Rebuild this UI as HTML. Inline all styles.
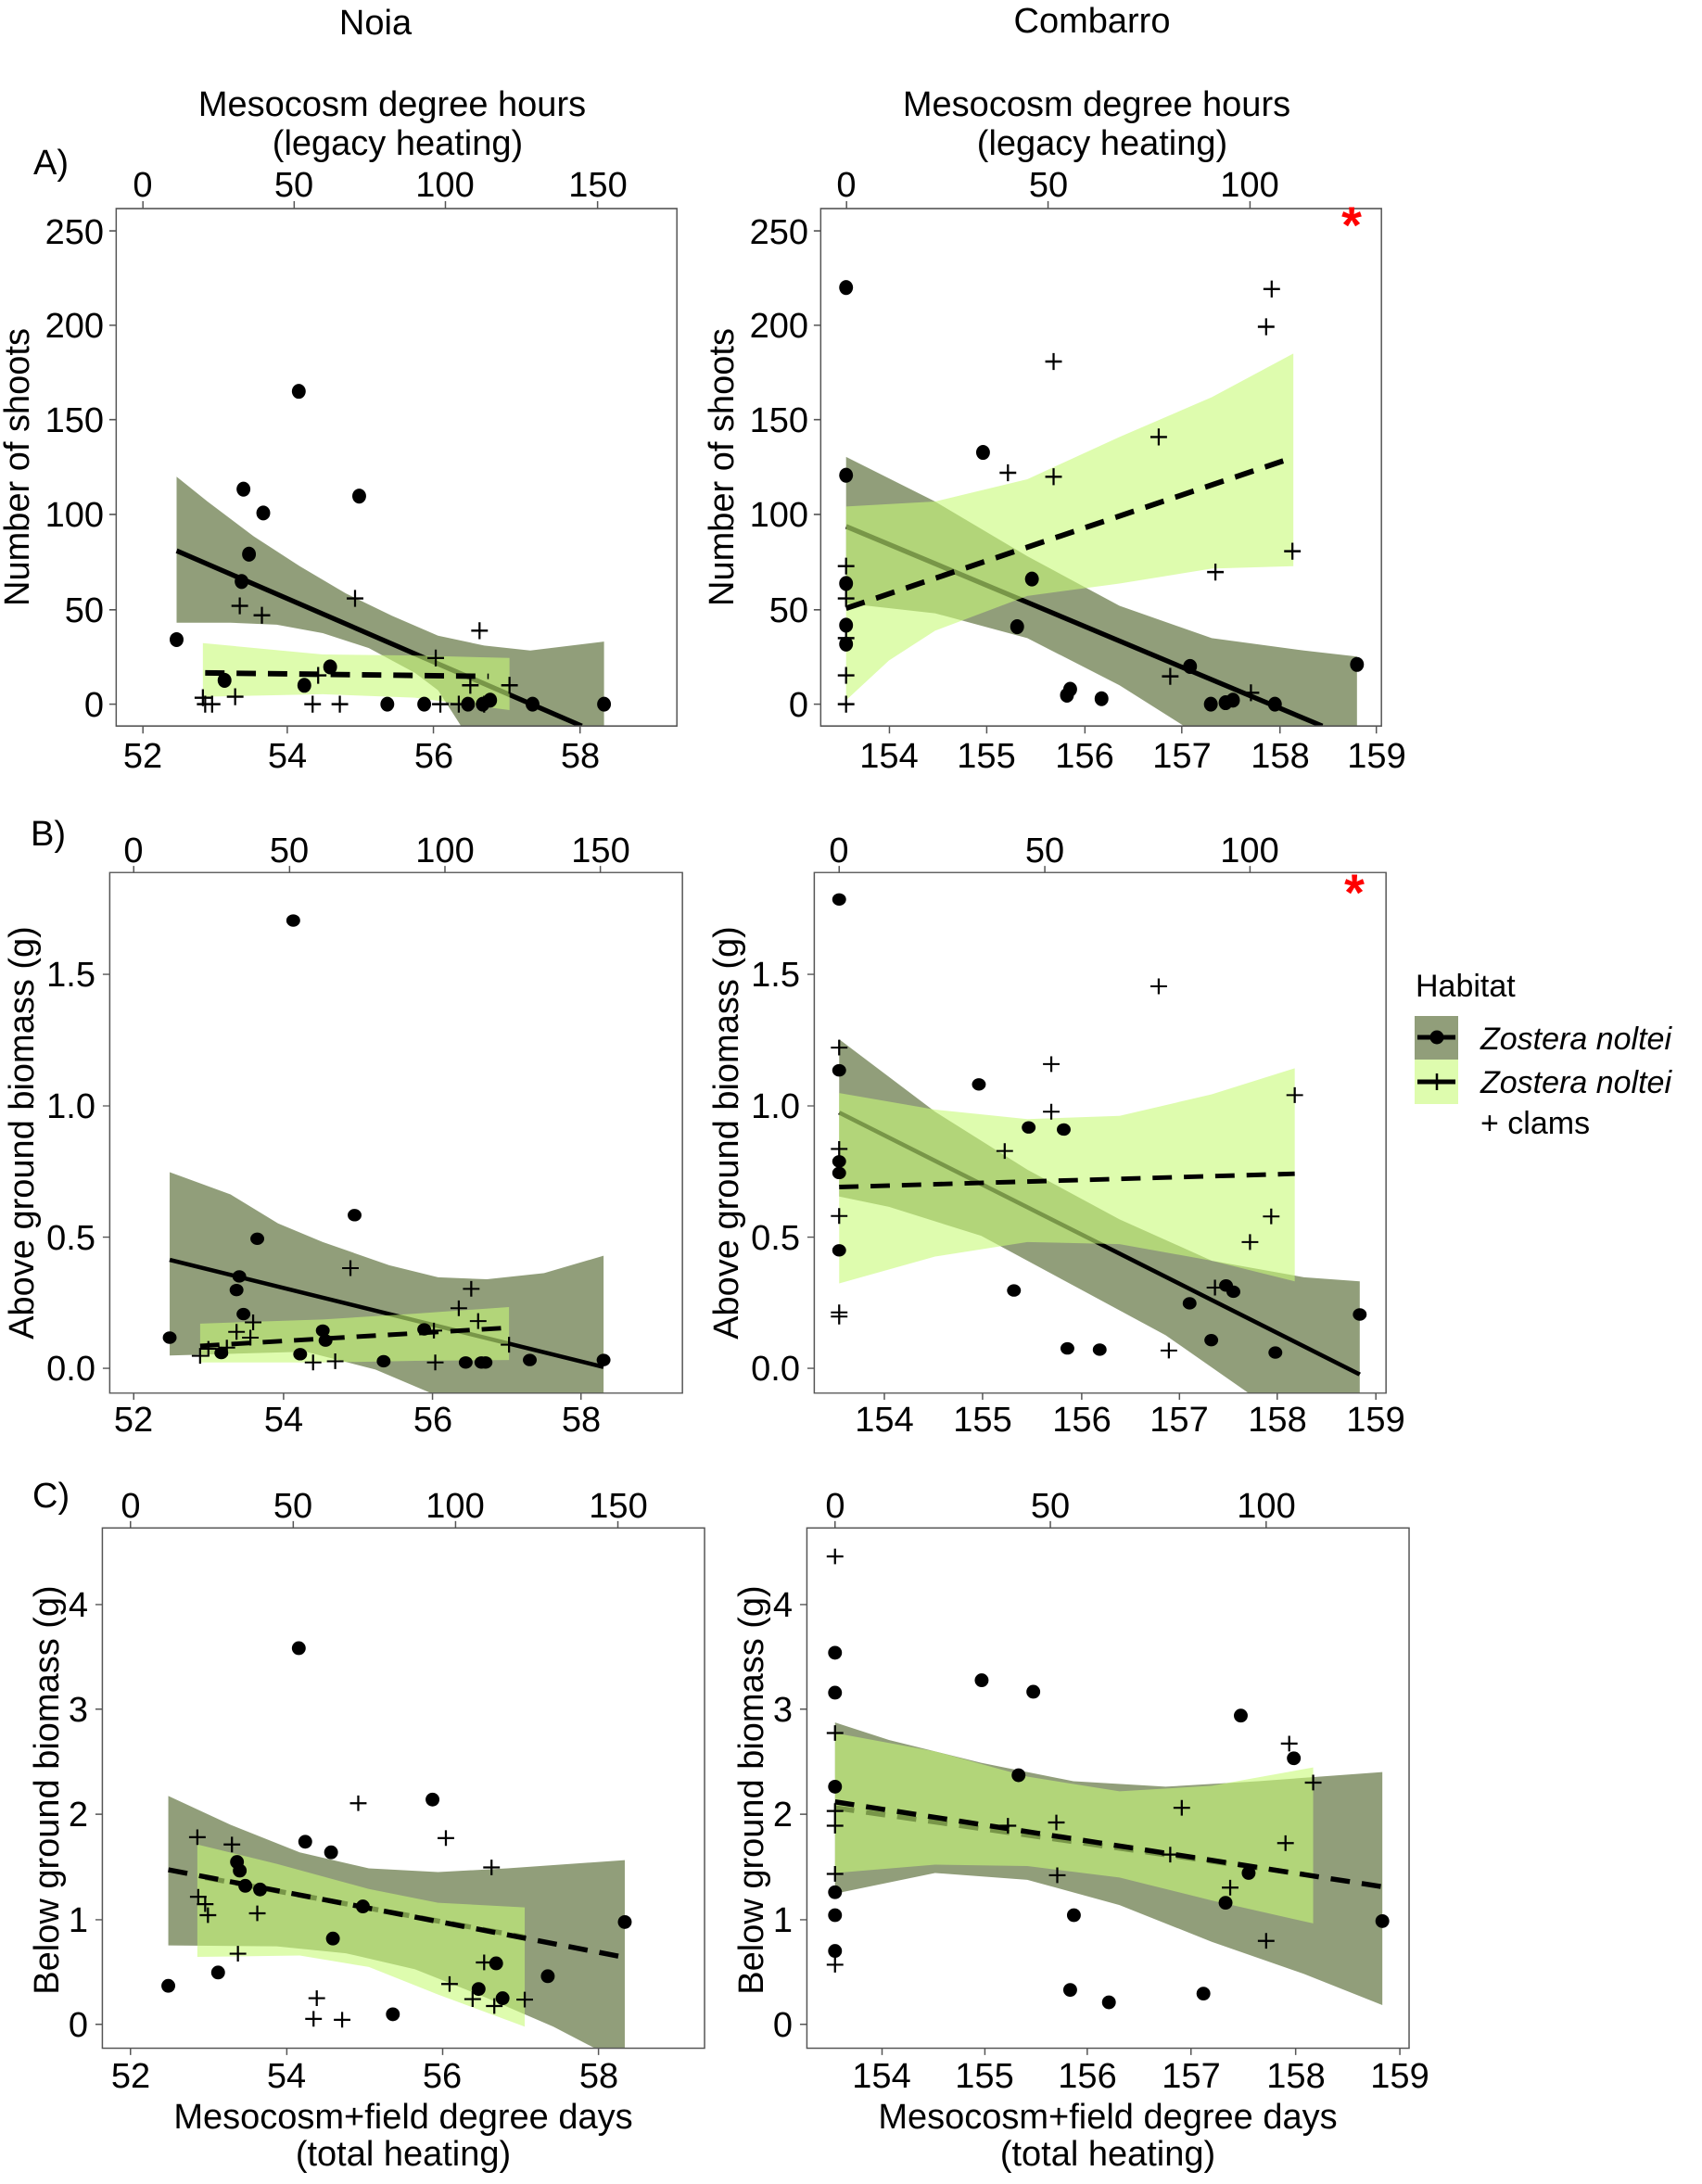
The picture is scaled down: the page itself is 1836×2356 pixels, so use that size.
<!DOCTYPE html>
<html><head><meta charset="utf-8"><style>
html,body{margin:0;padding:0;background:#fff;}
svg{display:block;}
text{font-family:"Liberation Sans",Arial,sans-serif;fill:#000;}
</style></head><body>
<svg width="1836" height="2356" viewBox="0 0 1836 2356" xmlns="http://www.w3.org/2000/svg">
<defs>
<clipPath id="cA"><rect x="252" y="420" width="1216" height="1042"/></clipPath>
<clipPath id="cB"><rect x="238" y="182" width="1242" height="1258"/></clipPath>
<clipPath id="cC"><rect x="222" y="138" width="1306" height="1134"/></clipPath>
</defs>
<style>
.dk{fill:rgb(145,158,122);}
.lt{fill:rgb(200,250,120);fill-opacity:0.6;}
.ln{stroke:#000;stroke-width:10;fill:none;}
.ds{stroke:#000;stroke-width:11;fill:none;stroke-dasharray:42 26;}
.bx{fill:none;stroke:#555;stroke-width:3;}
.tk{stroke:#555;stroke-width:3;}
.pl{stroke:#000;stroke-width:4.5;fill:none;}
</style>

<!-- ============ PANEL A LEFT ============ -->
<g transform="translate(0,0) scale(0.4974,0.5357)">
<g clip-path="url(#cA)">
<polygon class="dk" points="383,960 450,1010 550,1080 650,1140 750,1195 850,1240 950,1280 1050,1300 1150,1310 1310,1292 1310,1462 1000,1462 950,1390 900,1355 800,1305 700,1275 600,1258 500,1254 383,1254"/>
<line class="ln" x1="383" y1="1109" x2="1262" y2="1462"/>
<polygon class="lt" points="440,1295 700,1318 900,1320 1105,1325 1105,1430 900,1405 700,1398 440,1403"/>
<line class="ds" x1="445" y1="1355" x2="1060" y2="1362"/>
<g fill="#000">
<circle cx="383" cy="1288" r="15"/><circle cx="487" cy="1370" r="15"/><circle cx="648" cy="788" r="15"/><circle cx="528" cy="985" r="15"/><circle cx="540" cy="1116" r="15"/><circle cx="571" cy="1033" r="15"/><circle cx="779" cy="999" r="15"/><circle cx="524" cy="1171" r="15"/><circle cx="660" cy="1380" r="15"/><circle cx="716" cy="1343" r="15"/><circle cx="840" cy="1418" r="15"/><circle cx="920" cy="1418" r="15"/><circle cx="1015" cy="1418" r="15"/><circle cx="1047" cy="1418" r="15"/><circle cx="1063" cy="1410" r="15"/><circle cx="1155" cy="1418" r="15"/><circle cx="1310" cy="1418" r="15"/>
</g>
<path class="pl" d="M422,1405h36M440,1388v34 M427,1418h36M445,1401v34 M442,1418h36M460,1401v34 M492,1403h36M510,1386v34 M502,1220h36M520,1203v34 M550,1239h36M568,1222v34 M660,1418h36M678,1401v34 M672,1360h36M690,1343v34 M719,1418h36M737,1401v34 M752,1205h36M770,1188v34 M927,1325h36M945,1308v34 M937,1418h36M955,1401v34 M977,1418h36M995,1401v34 M1002,1380h36M1020,1363v34 M1022,1270h36M1040,1253v34 M1032,1418h36M1050,1401v34 M1087,1380h36M1105,1363v34"/>
</g>
<rect class="bx" x="252" y="420" width="1216" height="1042"/>
<path class="tk" d="M310,420v-15M638,420v-15M966,420v-15M1296,420v-15 M310,1462v15M623,1462v15M940,1462v15M1258,1462v15 M252,465h-15M252,655h-15M252,845h-15M252,1036h-15M252,1228h-15M252,1418h-15"/>
</g>

<!-- ============ PANEL A RIGHT ============ -->
<g transform="translate(760,0) scale(0.4974,0.5357)">
<g clip-path="url(#cA)">
<polygon class="dk" points="307,920 500,1010 700,1120 900,1220 1100,1285 1300,1310 1415,1322 1415,1462 1040,1462 900,1380 700,1285 500,1235 307,1215"/>
<line class="ln" x1="307" y1="1060" x2="1340" y2="1462"/>
<polygon class="lt" points="307,1020 500,1010 700,965 900,880 1100,800 1277,712 1277,1140 1100,1145 900,1175 700,1200 500,1270 400,1330 307,1410"/>
<line class="ds" x1="307" y1="1225" x2="1255" y2="928"/>
<g fill="#000">
<circle cx="307" cy="579" r="15"/><circle cx="307" cy="957" r="15"/><circle cx="307" cy="1175" r="15"/><circle cx="307" cy="1259" r="15"/><circle cx="307" cy="1297" r="15"/><circle cx="604" cy="911" r="15"/><circle cx="710" cy="1166" r="15"/><circle cx="678" cy="1262" r="15"/><circle cx="786" cy="1400" r="15"/><circle cx="793" cy="1388" r="15"/><circle cx="861" cy="1407" r="15"/><circle cx="1053" cy="1342" r="15"/><circle cx="1098" cy="1418" r="15"/><circle cx="1130" cy="1415" r="15"/><circle cx="1146" cy="1410" r="15"/><circle cx="1237" cy="1418" r="15"/><circle cx="1415" cy="1338" r="15"/>
</g>
<path class="pl" d="M289,1418h36M307,1401v34 M289,1360h36M307,1343v34 M289,1285h36M307,1268v34 M289,1205h36M307,1188v34 M289,1140h36M307,1123v34 M739,728h36M757,711v34 M640,952h36M658,935v34 M739,960h36M757,943v34 M967,880h36M985,863v34 M992,1362h36M1010,1345v34 M1090,1152h36M1108,1135v34 M1167,1395h36M1185,1378v34 M1200,658h36M1218,641v34 M1212,582h36M1230,565v34 M1257,1110h36M1275,1093v34"/>
</g>
<rect class="bx" x="252" y="420" width="1216" height="1042"/>
<path class="tk" d="M308,420v-15M745,420v-15M1183,420v-15 M401,1462v15M612,1462v15M825,1462v15M1035,1462v15M1248,1462v15M1457,1462v15 M252,465h-15M252,655h-15M252,845h-15M252,1036h-15M252,1228h-15M252,1418h-15"/>
</g>

<!-- ============ PANEL B LEFT ============ -->
<g transform="translate(0,860) scale(0.4974,0.4464)">
<g clip-path="url(#cB)">
<polygon class="dk" points="368,906 500,960 603,1030 700,1075 844,1131 950,1160 1056,1165 1180,1150 1309,1108 1309,1440 935,1440 814,1383 663,1340 368,1349"/>
<line class="ln" x1="368" y1="1118" x2="1309" y2="1377"/>
<polygon class="lt" points="434,1272 700,1262 900,1248 1104,1232 1104,1360 900,1362 700,1366 434,1366"/>
<line class="ds" x1="434" y1="1326" x2="1104" y2="1282"/>
<g fill="#000">
<circle cx="368" cy="1306" r="15"/><circle cx="636" cy="298" r="15"/><circle cx="769" cy="1010" r="15"/><circle cx="558" cy="1067" r="15"/><circle cx="513" cy="1191" r="15"/><circle cx="519" cy="1158" r="15"/><circle cx="528" cy="1249" r="15"/><circle cx="480" cy="1343" r="15"/><circle cx="651" cy="1346" r="15"/><circle cx="700" cy="1289" r="15"/><circle cx="706" cy="1313" r="15"/><circle cx="832" cy="1363" r="15"/><circle cx="920" cy="1286" r="15"/><circle cx="1010" cy="1366" r="15"/><circle cx="1044" cy="1366" r="15"/><circle cx="1053" cy="1366" r="15"/><circle cx="1309" cy="1360" r="15"/><circle cx="1149" cy="1360" r="15"/>
</g>
<path class="pl" d="M416,1350h36M434,1331v38 M434,1333h36M452,1314v38 M474,1330h36M492,1311v38 M495,1292h36M513,1273v38 M531,1269h36M549,1250v38 M525,1306h36M543,1287v38 M661,1366h36M679,1347v38 M709,1363h36M727,1344v38 M742,1138h36M760,1119v38 M923,1289h36M941,1270v38 M977,1235h36M995,1216v38 M1004,1188h36M1022,1169v38 M1019,1266h36M1037,1247v38 M926,1366h36M944,1347v38 M1086,1323h36M1104,1304v38"/>
</g>
<rect class="bx" x="238" y="182" width="1242" height="1258"/>
<path class="tk" d="M290,182v-16M628,182v-16M965,182v-16M1302,182v-16 M290,1440v16M615,1440v16M938,1440v16M1260,1440v16 M238,428h-15M238,746h-15M238,1063h-15M238,1380h-15"/>
</g>

<!-- ============ PANEL B RIGHT ============ -->
<g transform="translate(760,860) scale(0.4974,0.4464)">
<g clip-path="url(#cB)">
<polygon class="dk" points="292,585 500,760 700,900 900,1020 1100,1120 1300,1160 1421,1170 1421,1440 1180,1440 1000,1300 800,1180 600,1060 400,990 292,965"/>
<line class="ln" x1="292" y1="762" x2="1421" y2="1395"/>
<polygon class="lt" points="292,715 500,755 700,778 900,770 1100,718 1280,655 1280,1170 1100,1120 900,1080 700,1075 500,1110 292,1175"/>
<line class="ds" x1="292" y1="942" x2="1280" y2="910"/>
<g fill="#000">
<circle cx="292" cy="247" r="15"/><circle cx="292" cy="660" r="15"/><circle cx="292" cy="880" r="15"/><circle cx="292" cy="908" r="15"/><circle cx="292" cy="1095" r="15"/><circle cx="595" cy="694" r="15"/><circle cx="703" cy="798" r="15"/><circle cx="779" cy="803" r="15"/><circle cx="671" cy="1192" r="15"/><circle cx="787" cy="1332" r="15"/><circle cx="857" cy="1335" r="15"/><circle cx="1052" cy="1223" r="15"/><circle cx="1099" cy="1312" r="15"/><circle cx="1131" cy="1180" r="15"/><circle cx="1147" cy="1195" r="15"/><circle cx="1238" cy="1342" r="15"/><circle cx="1421" cy="1250" r="15"/>
</g>
<path class="pl" d="M274,605h36M292,586v38 M274,850h36M292,831v38 M274,1012h36M292,993v38 M274,1245h36M292,1226v38 M274,1255h36M292,1236v38 M734,645h36M752,626v38 M734,760h36M752,741v38 M633,855h36M651,836v38 M967,457h36M985,438v38 M989,1337h36M1007,1318v38 M1089,1185h36M1107,1166v38 M1165,1075h36M1183,1056v38 M1211,1013h36M1229,994v38 M1262,720h36M1280,701v38"/>
</g>
<rect class="bx" x="238" y="182" width="1240" height="1258"/>
<path class="tk" d="M292,182v-16M738,182v-16M1183,182v-16 M390,1440v16M603,1440v16M818,1440v16M1030,1440v16M1242,1440v16M1456,1440v16 M238,428h-15M238,746h-15M238,1063h-15M238,1380h-15"/>
</g>

<!-- ============ PANEL C LEFT ============ -->
<g transform="translate(0,1580) scale(0.4974,0.4949)">
<g clip-path="url(#cC)">
<polygon class="dk" points="365,722 500,785 650,845 800,880 950,888 1100,880 1355,862 1355,1272 1290,1272 1200,1225 1050,1160 900,1100 750,1065 600,1050 365,1048"/>
<line class="ds" x1="445" y1="900" x2="1138" y2="1030"/>
<polygon class="lt" points="428,828 600,870 800,925 950,955 1138,965 1138,1225 950,1155 800,1095 650,1070 428,1073"/>
<line class="ds" x1="365" y1="883" x2="1345" y2="1072"/>
<g fill="#000">
<circle cx="365" cy="1136" r="15"/><circle cx="473" cy="1107" r="15"/><circle cx="648" cy="400" r="15"/><circle cx="662" cy="822" r="15"/><circle cx="718" cy="845" r="15"/><circle cx="514" cy="866" r="15"/><circle cx="520" cy="885" r="15"/><circle cx="532" cy="918" r="15"/><circle cx="564" cy="926" r="15"/><circle cx="787" cy="963" r="15"/><circle cx="722" cy="1033" r="15"/><circle cx="938" cy="730" r="15"/><circle cx="852" cy="1198" r="15"/><circle cx="1038" cy="1143" r="15"/><circle cx="1076" cy="1087" r="15"/><circle cx="1090" cy="1163" r="15"/><circle cx="1188" cy="1115" r="15"/><circle cx="1355" cy="997" r="15"/>
</g>
<path class="pl" d="M410,812h36M428,795v34 M412,942h36M430,925v34 M427,958h36M445,941v34 M433,982h36M451,965v34 M485,828h36M503,811v34 M498,1066h36M516,1049v34 M540,978h36M558,961v34 M662,1208h36M680,1191v34 M669,1163h36M687,1146v34 M724,1210h36M742,1193v34 M759,738h36M777,721v34 M949,814h36M967,797v34 M957,1132h36M975,1115v34 M1007,1165h36M1025,1148v34 M1032,1085h36M1050,1068v34 M1048,878h36M1066,861v34 M1054,1180h36M1072,1163v34 M1120,1166h36M1138,1149v34"/>
</g>
<rect class="bx" x="222" y="138" width="1306" height="1134"/>
<path class="tk" d="M283,138v-15M636,138v-15M988,138v-15M1340,138v-15 M283,1272v15M622,1272v15M960,1272v15M1298,1272v15 M222,305h-15M222,533h-15M222,762h-15M222,992h-15M222,1220h-15"/>
</g>

<!-- ============ PANEL C RIGHT ============ -->
<g transform="translate(760,1580) scale(0.4974,0.4949)">
<g clip-path="url(#cC)">
<polygon class="dk" points="283,562 400,600 600,650 800,690 1000,702 1200,690 1470,670 1470,1178 1300,1110 1100,1040 900,960 700,905 500,890 283,935"/>
<line class="ds" x1="283" y1="748" x2="1300" y2="893"/>
<polygon class="lt" points="283,585 500,625 700,680 900,712 1100,700 1320,660 1320,1000 1100,950 900,900 700,875 500,872 283,890"/>
<line class="ds" x1="283" y1="735" x2="1470" y2="920"/>
<g fill="#000">
<circle cx="283" cy="410" r="15"/><circle cx="283" cy="497" r="15"/><circle cx="283" cy="702" r="15"/><circle cx="283" cy="932" r="15"/><circle cx="283" cy="982" r="15"/><circle cx="283" cy="1060" r="15"/><circle cx="601" cy="470" r="15"/><circle cx="713" cy="495" r="15"/><circle cx="681" cy="677" r="15"/><circle cx="801" cy="982" r="15"/><circle cx="793" cy="1145" r="15"/><circle cx="877" cy="1172" r="15"/><circle cx="1082" cy="1153" r="15"/><circle cx="1130" cy="955" r="15"/><circle cx="1180" cy="890" r="15"/><circle cx="1163" cy="547" r="15"/><circle cx="1278" cy="640" r="15"/><circle cx="1470" cy="995" r="15"/>
</g>
<path class="pl" d="M265,200h36M283,183v34 M265,585h36M283,568v34 M265,755h36M283,738v34 M265,787h36M283,770v34 M265,892h36M283,875v34 M265,1090h36M283,1073v34 M640,787h36M658,770v34 M745,780h36M763,763v34 M747,895h36M765,878v34 M992,850h36M1010,833v34 M1017,748h36M1035,731v34 M1122,922h36M1140,905v34 M1200,1038h36M1218,1021v34 M1242,825h36M1260,808v34 M1250,608h36M1268,591v34 M1302,693h36M1320,676v34"/>
</g>
<rect class="bx" x="222" y="138" width="1306" height="1134"/>
<path class="tk" d="M283,138v-15M750,138v-15M1218,138v-15 M385,1272v15M608,1272v15M830,1272v15M1055,1272v15M1282,1272v15M1508,1272v15 M222,305h-15M222,533h-15M222,762h-15M222,992h-15M222,1220h-15"/>
</g>

<!-- ============ TEXT ============ -->
<g font-size="38">
<text x="405" y="37" text-anchor="middle">Noia</text>
<text x="1178" y="35" text-anchor="middle">Combarro</text>

<text x="423" y="125" text-anchor="middle">Mesocosm degree hours</text>
<text x="429" y="167" text-anchor="middle">(legacy heating)</text>
<text x="1183" y="125" text-anchor="middle">Mesocosm degree hours</text>
<text x="1189" y="167" text-anchor="middle">(legacy heating)</text>

<text x="36" y="188">A)</text>
<text x="33" y="912">B)</text>
<text x="35" y="1626">C)</text>

<g text-anchor="middle">
<text x="154" y="212">0</text><text x="317" y="212">50</text><text x="480" y="212">100</text><text x="645" y="212">150</text>
<text x="913" y="212">0</text><text x="1131" y="212">50</text><text x="1348" y="212">100</text>
<text x="154" y="828">52</text><text x="310" y="828">54</text><text x="468" y="828">56</text><text x="626" y="828">58</text>
<text x="959" y="828">154</text><text x="1064" y="828">155</text><text x="1170" y="828">156</text><text x="1275" y="828">157</text><text x="1381" y="828">158</text><text x="1485" y="828">159</text>
</g>
<g text-anchor="end">
<text x="112" y="263">250</text><text x="112" y="364">200</text><text x="112" y="466">150</text><text x="112" y="568">100</text><text x="112" y="671">50</text><text x="112" y="773">0</text>
<text x="872" y="263">250</text><text x="872" y="364">200</text><text x="872" y="466">150</text><text x="872" y="568">100</text><text x="872" y="671">50</text><text x="872" y="773">0</text>
</g>
<text transform="translate(31,504) rotate(-90)" text-anchor="middle">Number of shoots</text>
<text transform="translate(791,504) rotate(-90)" text-anchor="middle">Number of shoots</text>

<g text-anchor="middle">
<text x="144" y="930">0</text><text x="312" y="930">50</text><text x="480" y="930">100</text><text x="648" y="930">150</text>
<text x="905" y="930">0</text><text x="1127" y="930">50</text><text x="1348" y="930">100</text>
<text x="144" y="1544">52</text><text x="306" y="1544">54</text><text x="467" y="1544">56</text><text x="627" y="1544">58</text>
<text x="954" y="1544">154</text><text x="1060" y="1544">155</text><text x="1167" y="1544">156</text><text x="1272" y="1544">157</text><text x="1378" y="1544">158</text><text x="1484" y="1544">159</text>
</g>
<g text-anchor="end">
<text x="103" y="1064">1.5</text><text x="103" y="1206">1.0</text><text x="103" y="1348">0.5</text><text x="103" y="1489">0.0</text>
<text x="863" y="1064">1.5</text><text x="863" y="1206">1.0</text><text x="863" y="1348">0.5</text><text x="863" y="1489">0.0</text>
</g>
<text transform="translate(36,1222) rotate(-90)" text-anchor="middle">Above ground biomass (g)</text>
<text transform="translate(796,1222) rotate(-90)" text-anchor="middle">Above ground biomass (g)</text>

<g text-anchor="middle">
<text x="141" y="1637">0</text><text x="316" y="1637">50</text><text x="491" y="1637">100</text><text x="667" y="1637">150</text>
<text x="901" y="1637">0</text><text x="1133" y="1637">50</text><text x="1366" y="1637">100</text>
<text x="141" y="2252">52</text><text x="309" y="2252">54</text><text x="477" y="2252">56</text><text x="646" y="2252">58</text>
<text x="951" y="2252">154</text><text x="1062" y="2252">155</text><text x="1173" y="2252">156</text><text x="1285" y="2252">157</text><text x="1398" y="2252">158</text><text x="1510" y="2252">159</text>
</g>
<g text-anchor="end">
<text x="95" y="1744">4</text><text x="95" y="1857">3</text><text x="95" y="1970">2</text><text x="95" y="2084">1</text><text x="95" y="2197">0</text>
<text x="855" y="1744">4</text><text x="855" y="1857">3</text><text x="855" y="1970">2</text><text x="855" y="2084">1</text><text x="855" y="2197">0</text>
</g>
<text transform="translate(63,1931) rotate(-90)" text-anchor="middle">Below ground biomass (g)</text>
<text transform="translate(823,1931) rotate(-90)" text-anchor="middle">Below ground biomass (g)</text>

<text x="435" y="2296" text-anchor="middle">Mesocosm+field degree days</text>
<text x="435" y="2336" text-anchor="middle">(total heating)</text>
<text x="1195" y="2296" text-anchor="middle">Mesocosm+field degree days</text>
<text x="1195" y="2336" text-anchor="middle">(total heating)</text>
</g>

<text x="1458" y="262" text-anchor="middle" font-size="56" font-weight="bold" style="fill:#f00">*</text>
<text x="1461" y="982" text-anchor="middle" font-size="56" font-weight="bold" style="fill:#f00">*</text>

<text x="1527" y="1075" font-size="34">Habitat</text>
<rect x="1526" y="1096" width="47" height="47" fill="rgb(145,158,122)"/>
<rect x="1526" y="1143" width="47" height="48" fill="rgb(200,250,120)" fill-opacity="0.6"/>
<line x1="1529" y1="1119" x2="1570" y2="1119" stroke="#000" stroke-width="5"/>
<circle cx="1550" cy="1119" r="7.5" fill="#000"/>
<line x1="1529" y1="1167" x2="1570" y2="1167" stroke="#000" stroke-width="5"/>
<line x1="1550" y1="1158" x2="1550" y2="1176" stroke="#000" stroke-width="2.5"/>
<text x="1597" y="1132" font-size="34" font-style="italic">Zostera noltei</text>
<text x="1597" y="1179" font-size="34" font-style="italic">Zostera noltei</text>
<text x="1597" y="1223" font-size="34">+ clams</text>
</svg>
</body></html>
